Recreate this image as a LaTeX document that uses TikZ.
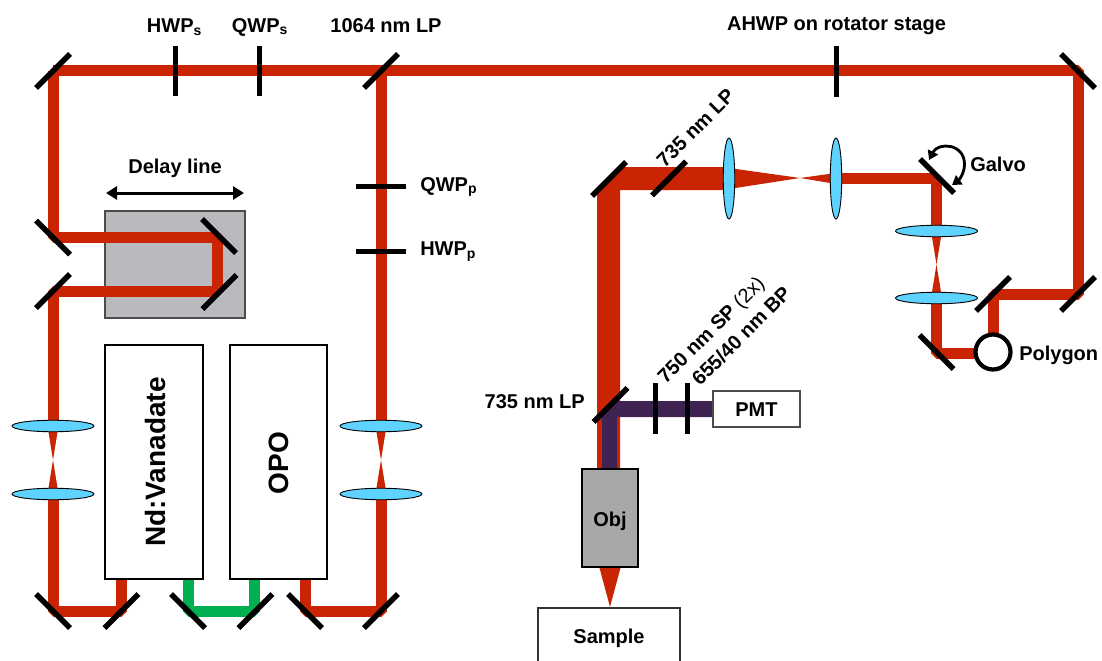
\documentclass[tikz,border=0pt]{standalone}
\usepackage{fontspec}
\setmainfont{Liberation Sans}
\usetikzlibrary{calc,arrows.meta,shapes.geometric}
\definecolor{beamred}{HTML}{C92504}
\definecolor{beamgreen}{HTML}{00AF50}
\definecolor{beampurple}{HTML}{3F2352}
\definecolor{lensblue}{HTML}{5FD3FF}
\definecolor{stagegrey}{HTML}{B8BABD}
\definecolor{objgrey}{HTML}{A7A9A8}
\def\px{0.75pt}
\newcommand{\mirA}[1]{\draw[mirror] ($(#1)+(-17,17)$) -- ($(#1)+(17,-17)$);}
\newcommand{\mirB}[1]{\draw[mirror] ($(#1)+(-17,-17)$) -- ($(#1)+(17,17)$);}
\newcommand{\vbow}[3]{\fill[beamred] ($(#1)+(-#3,0)$) -- ($(#1)+(#3,0)$) -- ($(#2)+(-#3,0)$) -- ($(#2)+(#3,0)$) -- cycle;}
\tikzset{
  x=0.75pt,y=-0.75pt,
  beam/.style={draw=beamred,line width=11*\px,line join=bevel},
  greenbeam/.style={draw=beamgreen,line width=11*\px,line join=bevel},
  mirror/.style={draw=black,line width=5.4*\px},
  plate/.style={draw=black,line width=5*\px},
  hlens/.style={shape=ellipse,draw=black,line width=0.9*\px,fill=lensblue,minimum width=82*\px,minimum height=11.5*\px,inner sep=0pt},
  vlens/.style={shape=ellipse,draw=black,line width=0.9*\px,fill=lensblue,minimum width=11.5*\px,minimum height=81*\px,inner sep=0pt},
  lab/.style={font=\fontsize{15}{17}\selectfont\bfseries,inner sep=0pt},
  biglab/.style={font=\fontsize{21}{23}\selectfont\bfseries,inner sep=0pt,rotate=90},
  whitebox/.style={draw=black,line width=2*\px,fill=white,inner sep=0pt},
  smallbox/.style={draw=black!70,line width=1.5*\px,fill=white,inner sep=0pt},
  greybox/.style={draw=black!70,line width=1.8*\px,inner sep=0pt},
}
\begin{document}
\begin{tikzpicture}
\useasboundingbox (0,0) rectangle (1102,660);
\coordinate (mTL) at (53,71);
\coordinate (mDU) at (53,237.5);
\coordinate (mDL) at (53,291);
\coordinate (mRU) at (219,236);
\coordinate (mRL) at (219.5,292);
\coordinate (mB1) at (53,611);
\coordinate (mB2) at (121.5,611);
\coordinate (mG1) at (188,611);
\coordinate (mG2) at (255.5,611);
\coordinate (mB3) at (305,611);
\coordinate (mB4) at (381,611);
\coordinate (mLP) at (381,71);
\coordinate (mTR) at (1078,71);
\coordinate (mPR) at (1078,294);
\coordinate (mPL) at (993,294);
\coordinate (mPB) at (936.5,352);
\coordinate (mGv) at (937,176);
\coordinate (mS) at (609,179);
\coordinate (mLPb) at (669,178.5);
\coordinate (mLPc) at (610.5,405);
\node[greybox,fill=stagegrey,minimum width=140*\px,minimum height=107*\px] (delay) at (175,264.5) {};
\coordinate (lL1) at (53,426);
\coordinate (lL2) at (53,494);
\coordinate (lR1) at (381,426);
\coordinate (lR2) at (381,494);
\coordinate (lV1) at (936.5,231);
\coordinate (lV2) at (936.5,298);
\coordinate (lH1) at (729,178.5);
\coordinate (lH2) at (836,178.5);
% beams
\draw[beam] (mTL) -- (mTR) -- (mPR) -- (mPL) -- ++(0,45);
\draw[beam] (mTL) -- (mDU) -- (217.5,237.5) -- (217.5,291) -- (mDL) -- (lL1);
\draw[beam] (lL2) -- (mB1) -- (mB2) -- (121.5,575);
\draw[beam] (mLP) -- (lR1);
\draw[beam] (lR2) -- (mB4) -- (mB3) -- (305,575);
\draw[greenbeam] (188,575) -- (mG1) -- (254,611) -- (254,575);
\vbow{lL1}{lL2}{5.5}
\vbow{lR1}{lR2}{5.5}
\vbow{lV1}{lV2}{5.5}
\draw[beam] (lV2) -- (936.5,353) -- (978,353);
\draw[beam] (lV1) -- (936.5,178) -- (842,178);
\fill[beamred] (729,168) -- (800,178) -- (836,173) -- (842,172.5) -- (842,183.5) -- (836,184) -- (800,178) -- (729,189) -- cycle;
\fill[beamred] (729,167) -- (621,167) -- (597,191) -- (597,470) -- (620,470) -- (620,190) -- (729,190) -- cycle;
\fill[beampurple] (713,401) -- (614.5,401) -- (602,413.5) -- (602,470) -- (617,470) -- (617,417) -- (713,417) -- cycle;
\fill[beamred] (599,566) -- (621,566) -- (610,607) -- cycle;
% boxes
\node[whitebox,minimum width=98*\px,minimum height=234*\px] (nd) at (154,462) {};
\node[whitebox,minimum width=97*\px,minimum height=234*\px] (opo) at (278.5,462) {};
\node[smallbox,minimum width=87*\px,minimum height=36*\px] (pmt) at (756.5,409) {};
\node[draw=black,line width=1.5*\px,fill=objgrey,minimum width=56*\px,minimum height=98*\px,inner sep=0pt] (obj) at (610,518) {};
\draw[black!80,line width=1.5*\px,fill=white] (538,662) -- (538,608) -- (680,608) -- (680,662);
% mirrors
\mirA{mTL}\mirB{mDU}\mirA{mDL}\mirB{mRU}\mirA{mRL}
\mirB{mB1}\mirA{mB2}\mirB{mG1}\mirA{mG2}\mirB{mB3}\mirA{mB4}
\mirA{mLP}\mirB{mTR}\mirA{mPR}\mirA{mPL}\mirB{mPB}\mirB{mGv}
\mirA{mS}\mirA{mLPb}\mirA{mLPc}
% wave plates and filters
\draw[plate] (175,46) -- (175,96);
\draw[plate] (259,46) -- (259,96);
\draw[plate] (836,46) -- (836,97);
\draw[plate] (356,186) -- (406,186);
\draw[plate] (356,251) -- (406,251);
\draw[plate] (655,383) -- (655,434);
\draw[plate] (687,383) -- (687,434);
% lenses
\node[hlens] (LL1) at (lL1) {};
\node[hlens] (LL2) at (lL2) {};
\node[hlens] (LR1) at (lR1) {};
\node[hlens] (LR2) at (lR2) {};
\node[hlens] (LV1) at (lV1) {};
\node[hlens] (LV2) at (lV2) {};
\node[vlens] (LH1) at (lH1) {};
\node[vlens] (LH2) at (lH2) {};
% polygon
\node[shape=circle,draw=black,line width=4.2*\px,fill=white,minimum size=35*\px,inner sep=0pt] (poly) at (993,352) {};
% arrows
\draw[black,line width=3*\px,{Triangle[length=11*\px,width=13*\px]}-{Triangle[length=11*\px,width=13*\px]}] (106,193) -- (244,193);
\coordinate (gA) at (929,160);
\coordinate (gB) at (952,185);
\draw[black,line width=2.8*\px,{Triangle[length=9*\px,width=11*\px]}-{Triangle[length=9*\px,width=11*\px]}] (gA) .. controls (938,142) and (965,143) .. (964.5,165) .. controls (964,174) and (959,180) .. (gB);
% labels
\node[lab] (t1) at (174.5,27) {HWP\textsubscript{s}};
\node[lab] (t2) at (260,27) {QWP\textsubscript{s}};
\node[lab] (t3) at (386,26) {1064 nm LP};
\node[lab] (t4) at (836.5,26) {AHWP on rotator stage};
\node[lab] (t5) at (175,168) {Delay line};
\node[lab,anchor=west] (t6) at (420,187) {QWP\textsubscript{p}};
\node[lab,anchor=west] (t7) at (420,252) {HWP\textsubscript{p}};
\node[lab,anchor=west] (t8) at (970,164) {Galvo};
\node[lab,anchor=west] (t9) at (1019,355) {Polygon};
\node[lab,rotate=45] (t10) at (695.5,128) {735 nm LP};
\node[lab,rotate=45,anchor=west] (t11) at (662,381) {750 nm SP {\mdseries(2x)}};
\node[lab,rotate=45,anchor=west] (t12) at (695,382) {655/40 nm BP};
\node[lab,anchor=east] (t13) at (585,402) {735 nm LP};
\node[lab] (t15) at ($(pmt)+(0,1)$) {PMT};
\node[lab] (t16) at ($(obj)+(0,3)$) {Obj};
\node[lab] (t14) at (609,638) {Sample};
\node[biglab] at (155,462) {Nd:Vanadate};
\node[biglab] at (279,463) {OPO};
\end{tikzpicture}
\end{document}
